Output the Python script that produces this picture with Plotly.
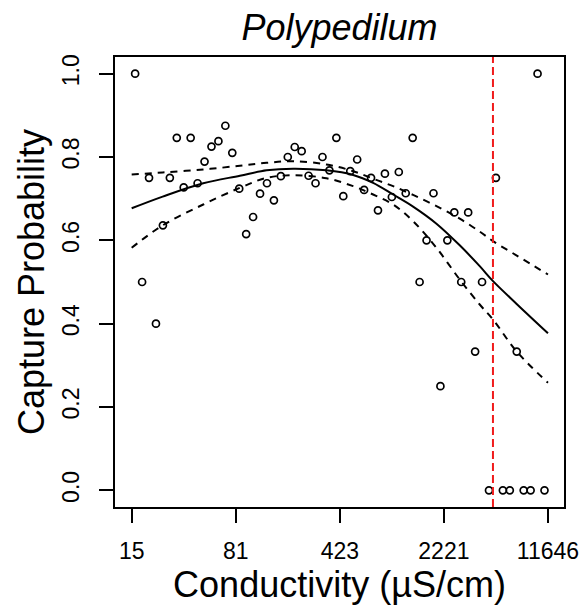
import plotly.graph_objects as go

# Binned observations: conductivity (uS/cm, bin midpoints) and capture probability
conductivity = [16.27, 18.18, 20.30, 22.67, 25.32, 28.28, 31.58, 35.27, 39.39, 43.99,
                49.13, 54.87, 61.28, 68.43, 76.43, 85.35, 95.32, 106.45, 118.89, 132.78,
                148.28, 165.60, 184.95, 206.54, 230.67, 257.61, 287.70, 321.30, 358.83, 400.74,
                447.55, 499.82, 558.20, 623.39, 696.21, 777.52, 868.34, 969.76, 1083.0, 1209.5,
                1350.8, 1508.6, 1684.8, 1881.6, 2101.3, 2346.8, 2620.9, 2927.0, 3268.9, 3650.7,
                4077.1, 4553.3, 5085.1, 5679.0, 6342.3, 7083.1, 7910.4, 8834.3, 9866.1, 11018.0]
capture_prob = [1.0, 0.5, 0.75, 0.4, 0.636, 0.75, 0.846, 0.727, 0.846, 0.737,
                0.789, 0.825, 0.838, 0.875, 0.810, 0.724, 0.615, 0.656, 0.712, 0.737,
                0.696, 0.754, 0.800, 0.824, 0.814, 0.755, 0.737, 0.800, 0.768, 0.846,
                0.706, 0.766, 0.794, 0.721, 0.750, 0.672, 0.760, 0.704, 0.764, 0.713,
                0.846, 0.5, 0.6, 0.713, 0.25, 0.6, 0.667, 0.5, 0.667, 0.333,
                0.5, 0.0, 0.75, 0.0, 0.0, 0.333, 0.0, 0.0, 1.0, 0.0]

# Fitted curve and confidence band
fit_x = [15.40, 25.22, 48.12, 86.27, 131.95, 201.5, 342.7, 523.3, 719.4, 988.9,
         1359.3, 1972.7, 2857.6, 3928.4, 4855.7, 7043.0, 11646.0]
fit_mid = [0.677, 0.705, 0.737, 0.755, 0.768, 0.772, 0.768, 0.757, 0.738, 0.710,
           0.681, 0.640, 0.588, 0.538, 0.502, 0.448, 0.377]
fit_upper = [0.758, 0.763, 0.770, 0.779, 0.786, 0.790, 0.782, 0.766, 0.748, 0.730,
             0.709, 0.682, 0.652, 0.621, 0.598, 0.564, 0.518]
fit_lower = [0.582, 0.636, 0.686, 0.726, 0.750, 0.756, 0.749, 0.730, 0.710, 0.686,
             0.646, 0.582, 0.506, 0.446, 0.410, 0.334, 0.258]

threshold = 4850.0

tick_vals = [15.4, 80.76, 423.5, 2221.0, 11646.0]
tick_text = ["15", "81", "423", "2221", "11646"]
y_ticks = [0.0, 0.2, 0.4, 0.6, 0.8, 1.0]
y_text = ["0.0", "0.2", "0.4", "0.6", "0.8", "1.0"]

FONT = "Liberation Sans, Arial, Helvetica, sans-serif"

W, H = 583, 607

fig = go.Figure()
fig.add_trace(go.Scatter(x=conductivity, y=capture_prob, mode="markers",
                         marker=dict(symbol="circle-open", size=7, color="black",
                                     line=dict(width=1.7, color="black")),
                         showlegend=False))
fig.add_trace(go.Scatter(x=fit_x, y=fit_mid, mode="lines",
                         line=dict(color="black", width=2, shape="spline"),
                         showlegend=False))
for band in (fit_upper, fit_lower):
    fig.add_trace(go.Scatter(x=fit_x, y=band, mode="lines",
                             line=dict(color="black", width=2, dash="7px,6px", shape="spline"),
                             showlegend=False))

fig.add_shape(type="line", xref="x", yref="paper", x0=threshold, x1=threshold, y0=0, y1=1,
              line=dict(color="#F01C1C", width=2, dash="8px,4px"))

fig.update_layout(
    width=W, height=H,
    margin=dict(l=115, r=19, t=57, b=100),
    paper_bgcolor="white", plot_bgcolor="white",
    font=dict(family=FONT, color="black"),
    title=dict(text="<i>Polypedilum</i>", font=dict(size=36, family=FONT, color="black"),
               x=0.5, xref="paper", xanchor="center",
               y=1 - 27 / H, yref="container", yanchor="middle"),
)
fig.update_xaxes(type="log", range=[1.0722, 4.177], automargin=False,
                 tickvals=tick_vals, ticktext=tick_text,
                 ticks="outside", ticklen=14, tickwidth=2, tickcolor="black",
                 tickfont=dict(size=23, family=FONT, color="black"),
                 ticklabelstandoff=8,
                 showline=True, linecolor="black", linewidth=2, mirror=True,
                 showgrid=False, zeroline=False,
                 title=dict(text="Conductivity (µS/cm)", font=dict(size=36, family=FONT, color="black"),
                            standoff=0))
fig.update_yaxes(range=[-0.04, 1.04], automargin=False,
                 tickvals=y_ticks, ticktext=y_text, tickangle=-90,
                 ticks="outside", ticklen=14, tickwidth=2, tickcolor="black",
                 tickfont=dict(size=23, family=FONT, color="black"),
                 ticklabelstandoff=11,
                 showline=True, linecolor="black", linewidth=2, mirror=True,
                 showgrid=False, zeroline=False,
                 title=dict(text="Capture Probability", font=dict(size=36, family=FONT, color="black"),
                            standoff=2))

fig.write_html("out.html",
               config={"displayModeBar": False},
               post_script="document.body.style.margin='0px';document.body.style.overflow='hidden';")
